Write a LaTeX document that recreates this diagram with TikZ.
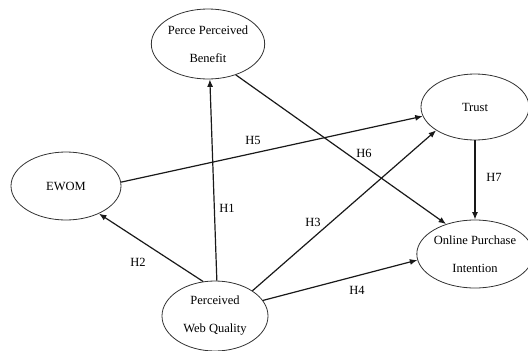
\documentclass[tikz,border=0pt]{standalone}
\usepackage{fontspec}
\setmainfont{Liberation Serif}
\usetikzlibrary{arrows.meta,shapes.geometric}
\begin{document}
\begin{tikzpicture}[x=1pt,y=-1pt,
  construct/.style={ellipse,draw=black!80,line width=0.8pt,inner sep=0pt,align=center,
    font=\fontsize{12.5}{28}\selectfont,text=black},
  hpath/.style={line width=1.2pt,draw=black!90,-{Latex[length=7.5pt,width=6pt]}},
  hyp/.style={font=\fontsize{12.5}{15}\selectfont,text=black,inner sep=0pt}]
\useasboundingbox (0,0) rectangle (528,351);
\node[construct,minimum width=110pt,minimum height=70pt] (ppb) at (208,44) {Perce Perceived\\Benefit};
\node[construct,minimum width=110pt,minimum height=68pt] (ewom) at (66,186) {EWOM};
\node[construct,minimum width=108pt,minimum height=66pt] (trust) at (475,107) {Trust};
\node[construct,minimum width=106pt,minimum height=68pt] (opi) at (475,254) {Online Purchase\\Intention};
\node[construct,minimum width=106pt,minimum height=70pt] (pwq) at (215,316) {Perceived\\Web Quality};

\draw[hpath] (pwq.87) -- (ppb.273);
\draw[hpath] (pwq.109) -- (ewom.-40);
\draw[hpath] (pwq.34) -- (trust.211);
\draw[hpath] (pwq.18) -- (opi.186);
\draw[hpath] (ewom.4) -- (trust.190);
\draw[hpath] (ppb.-48) -- (opi.134);
\draw[hpath] (trust.south) -- (opi.north);

\node[hyp] (h1) at (227,208) {H1};
\node[hyp] (h2) at (138,262) {H2};
\node[hyp] (h3) at (313,222) {H3};
\node[hyp] (h4) at (357,290) {H4};
\node[hyp] (h5) at (253,140) {H5};
\node[hyp] (h6) at (364,153) {H6};
\node[hyp] (h7) at (494,177) {H7};
\end{tikzpicture}
\end{document}
